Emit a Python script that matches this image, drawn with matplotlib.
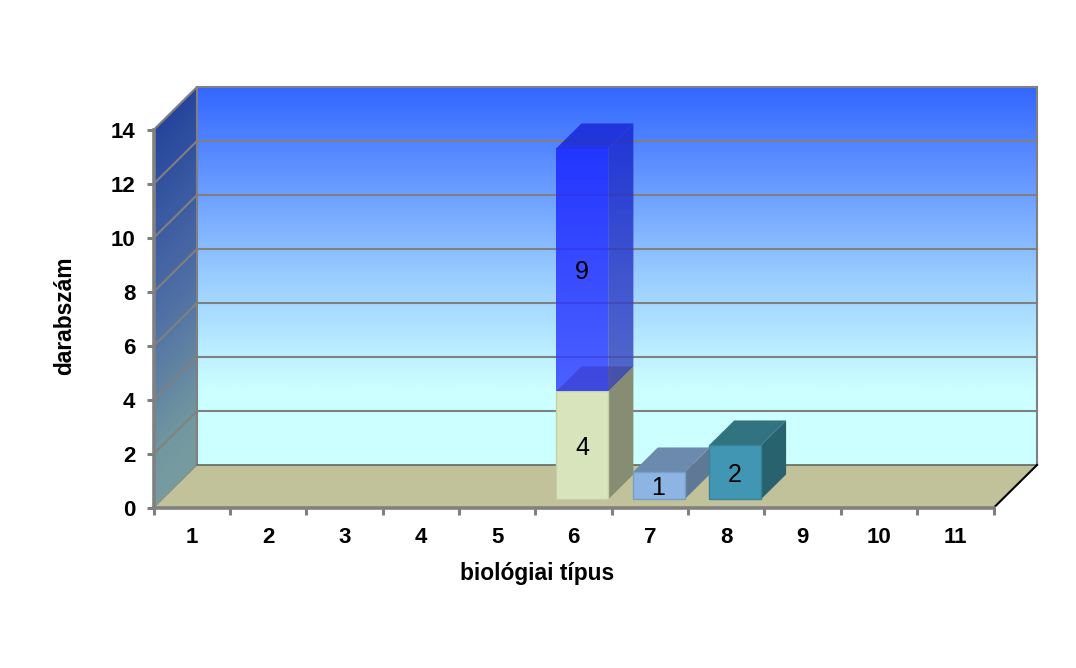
import numpy as np
import matplotlib
matplotlib.use("Agg")
import matplotlib.pyplot as plt
from matplotlib.colors import LinearSegmentedColormap
from matplotlib.patches import Polygon

plt.rcParams["font.family"] = ["Liberation Sans", "DejaVu Sans"]

# adatok
kategoriak = [1, 2, 3, 4, 5, 6, 7, 8, 9, 10, 11]
sorozat_a = [0, 0, 0, 0, 0, 4, 0, 0, 0, 0, 0]
sorozat_b = [0, 0, 0, 0, 0, 9, 0, 0, 0, 0, 0]
sorozat_c = [0, 0, 0, 0, 0, 0, 1, 0, 0, 0, 0]
sorozat_d = [0, 0, 0, 0, 0, 0, 0, 2, 0, 0, 0]
y_ticks = [0, 2, 4, 6, 8, 10, 12, 14]

# mélység adatkoordinátában (43.5 px és 43 px)
DX = 43.5 / 76.4
DY = 43 / 27.0
GRID = "#808080"

fig = plt.figure(figsize=(10.76, 6.68), dpi=100, facecolor="white")
ax = fig.add_axes([153.5 / 1076, (668 - 508) / 668, 840 / 1076, 378 / 668])
ax.set_xlim(0.5, 11.5)
ax.set_ylim(0, 14)
ax.patch.set_alpha(0)


def eltol(x, y, d):
    return (x + d * DX, y + d * DY)


def gradiens(pontok, szinek, z, alpha=1.0, ferde=0.0):
    # színátmenet egy sokszögre vágva
    pontok = np.array(pontok)
    x0, x1 = pontok[:, 0].min(), pontok[:, 0].max()
    y0, y1 = pontok[:, 1].min(), pontok[:, 1].max()
    cmap = LinearSegmentedColormap.from_list("g", szinek)
    yy, xx = np.mgrid[0:1:256j, 0:1:64j]
    t = np.clip(yy * (1 - ferde) + xx * ferde, 0, 1)
    im = ax.imshow(t, cmap=cmap, vmin=0, vmax=1, extent=(x0, x1, y0, y1), origin="upper",
                   aspect="auto", zorder=z, alpha=alpha, interpolation="bilinear")
    folt = Polygon(pontok, closed=True, transform=ax.transData, fc="none", ec="none")
    im.set_clip_box(fig.bbox)
    im.set_clip_path(folt)
    ax.set_xlim(0.5, 11.5)
    ax.set_ylim(0, 14)


def lap(pontok, szin, z, alpha=1.0, el=None):
    ax.add_patch(Polygon(pontok, closed=True, fc=szin, ec=el if el else "none", lw=1,
                         alpha=alpha, zorder=z, clip_on=False))


# hátsó fal
xb0, yb0 = eltol(0.5, 0, 1)
xb1, yb1 = eltol(11.5, 14, 1)
gradiens([(xb0, yb0), (xb1, yb0), (xb1, yb1), (xb0, yb1)],
         [(0, "#3366FF"), (0.5, "#99CCFF"), (0.8, "#CCFFFF"), (1, "#CCFFFF")], 1)

# oldalfal
gradiens([(0.5, 0), (xb0, yb0), (xb0, yb1), (0.5, 14)],
         [(0, "#1C3C9C"), (0.5, "#4F6FA5"), (0.8, "#72989F"), (1, "#7C9F9F")], 1, ferde=0.1)

# padló
lap([(0.5, 0), (11.5, 0), (xb1, yb0), (xb0, yb0)], "#C1C19A", 2)

# rácsvonalak
for v in y_ticks[1:]:
    ax.plot([0.5, xb0, xb1], [v, v + DY, v + DY], color=GRID, lw=1.5, zorder=3, clip_on=False)
ax.plot([xb0, xb0], [yb0, yb1], color=GRID, lw=1.5, zorder=3, clip_on=False)
ax.plot([xb1, xb1], [yb0, yb1], color=GRID, lw=1.5, zorder=3, clip_on=False)
ax.plot([xb0, xb1], [yb0, yb0], color="#5F6A60", lw=1.2, zorder=3, clip_on=False)
ax.plot([0.5, xb0], [0, yb0], color=GRID, lw=0.6, zorder=3, clip_on=False)
ax.plot([11.5, xb1], [0, yb0], color="black", lw=1.5, zorder=3, clip_on=False)

# oszlopok
SZEL = 0.34
D0, D1 = 0.2, 0.78
stilusok = [
    (sorozat_a, "#D8E4BC", "#878D72", "#806A30", "#C4D0A8", 1.0),
    (sorozat_b, ["#1A27FF", "#3544FF"], ["#1A28D0", "#4050C0"], "#1A28D8", None, 0.85),
    (sorozat_c, "#8DB4E2", "#5F7896", "#6C89AE", "#76A0C8", 1.0),
    (sorozat_d, "#4197B3", "#28626F", "#31747F", "#3A8298", 1.0),
]
alap = np.zeros(len(kategoriak))
z = 4
for ertekek, eleje, oldal, teteje, el, a in stilusok:
    for i, kat in enumerate(kategoriak):
        h = ertekek[i]
        if h == 0:
            continue
        b = alap[i]
        bal, jobb = kat - SZEL, kat + SZEL
        f = [eltol(bal, b, D0), eltol(jobb, b, D0), eltol(jobb, b + h, D0), eltol(bal, b + h, D0)]
        s = [eltol(jobb, b, D0), eltol(jobb, b, D1), eltol(jobb, b + h, D1), eltol(jobb, b + h, D0)]
        t = [eltol(bal, b + h, D0), eltol(jobb, b + h, D0), eltol(jobb, b + h, D1), eltol(bal, b + h, D1)]
        if isinstance(oldal, list):
            gradiens(s, oldal, z, a)
        else:
            lap(s, oldal, z, a)
        lap(t, teteje, z, a)
        z += 1
        if isinstance(eleje, list):
            gradiens(f, eleje, z, a)
        else:
            lap(f, eleje, z, a, el=el)
        z += 1
        kx, ky = eltol(kat, b + h / 2, D0)
        ax.text(kx, ky - 2.5 / 27, str(h), ha="center", va="center", fontsize=18, color="black", zorder=30)
    alap += np.array(ertekek)

# tengelyek
for nev in ["top", "right"]:
    ax.spines[nev].set_visible(False)
for nev in ["left", "bottom"]:
    ax.spines[nev].set_color(GRID)
    ax.spines[nev].set_linewidth(2.6)
    ax.spines[nev].set_zorder(20)
ax.set_yticks(y_ticks)
ax.set_yticklabels([str(v) for v in y_ticks], fontsize=16, fontweight="bold")
ax.set_xticks(kategoriak)
ax.set_xticklabels([str(k) for k in kategoriak], fontsize=16, fontweight="bold")
ax.set_xticks(np.arange(0.5, 12, 1), minor=True)
ax.tick_params(axis="y", color=GRID, width=2.2, length=5, pad=8)
ax.tick_params(axis="x", which="major", length=0, pad=14)
ax.tick_params(axis="x", which="minor", color=GRID, width=2.2, length=5)
ax.set_xlabel("biológiai típus", fontsize=16.4, fontweight="bold")
ax.set_ylabel("darabszám", fontsize=16.4, fontweight="bold")
ax.xaxis.set_label_coords(0.4565, -0.143)
ax.yaxis.set_label_coords(-0.092, 0.509)

fig.savefig("out.png", dpi=100, facecolor="white")
